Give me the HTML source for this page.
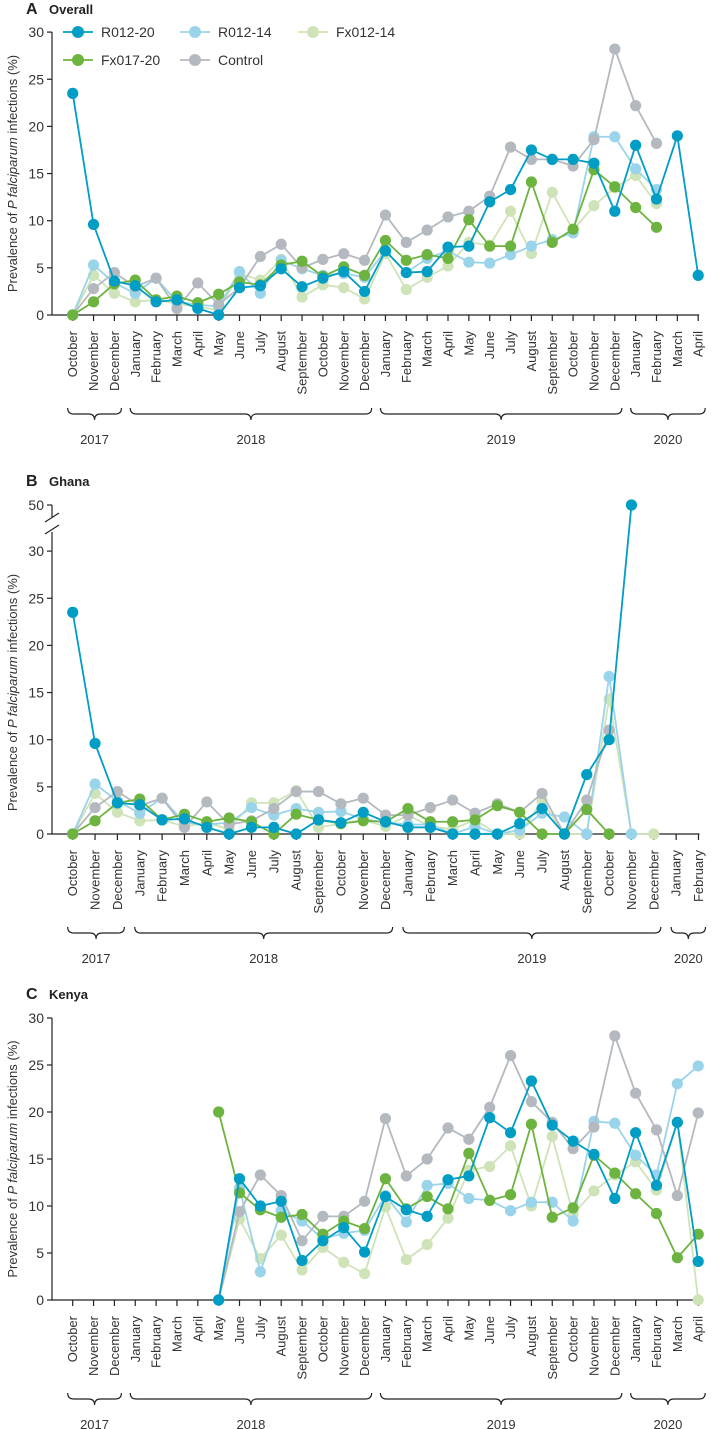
<!DOCTYPE html>
<html><head><meta charset="utf-8">
<style>
html,body{margin:0;padding:0;background:#fff;}
svg{display:block;font-family:"Liberation Sans",sans-serif;}
</style></head>
<body>
<svg id="chart" width="712" height="1429" viewBox="0 0 712 1429" xmlns="http://www.w3.org/2000/svg"></svg>
<script>
const monthsAC = ["October","November","December","January","February","March","April","May","June","July","August","September","October","November","December","January","February","March","April","May","June","July","August","September","October","November","December","January","February","March","April"];
const monthsB = ["October","November","December","January","February","March","April","May","June","July","August","September","October","November","December","January","February","March","April","May","June","July","August","September","October","November","December","January","February"];
const yearLabels = ["2017","2018","2019","2020"];
const seriesNames = ["Fx012-14","R012-14","Control","Fx017-20","R012-20"];
const yTicksAC = [0,5,10,15,20,25,30];

const A_R01220 = [23.5,9.6,3.6,3.1,1.4,1.6,0.7,0,2.9,3.1,4.9,3.0,3.9,4.6,2.5,6.8,4.5,4.6,7.2,7.3,12.0,13.3,17.5,16.5,16.5,16.1,11.0,18.0,12.3,19.0,4.2];
const A_R01214 = [0,5.3,3.4,2.3,3.9,1.4,1.1,0.9,4.6,2.3,5.8,4.9,4.2,4.4,4.0,6.8,4.5,6.0,6.8,5.6,5.5,6.4,7.3,8.0,8.7,18.9,18.9,15.5,13.3,null,null];
const A_Fx01214 = [0,4.2,2.3,1.4,1.6,1.2,0.9,0.5,4.4,3.7,5.9,1.9,3.2,2.9,1.7,6.5,2.7,4.0,5.2,7.7,7.4,11.0,6.5,13.0,9.0,11.6,13.5,14.8,11.8,null,null];
const A_Fx01720 = [0,1.4,3.3,3.7,1.6,2.0,1.3,2.2,3.5,3.2,5.3,5.7,4.1,5.1,4.2,7.9,5.8,6.4,6.0,10.1,7.3,7.3,14.1,7.7,9.1,15.4,13.6,11.4,9.3,null,null];
const A_Control = [0,2.8,4.5,3.0,3.9,0.7,3.4,1.1,2.9,6.2,7.5,5.0,5.9,6.5,5.8,10.6,7.7,9.0,10.4,11.0,12.6,17.8,16.5,16.5,15.8,18.6,28.2,22.2,18.2,null,null];

const B_R01220 = [23.5,9.6,3.3,3.1,1.5,1.6,0.7,0,0.7,0.7,0,1.5,1.2,2.3,1.3,0.7,0.7,0,0,0,1.1,2.7,0,6.3,10.0,50,null,null,null];
const B_R01214 = [0,5.3,3.5,2.2,3.8,1.2,1.0,1.2,2.8,2.0,2.7,2.3,2.4,1.6,1.2,1.0,1.0,0,0.8,0,0.4,2.2,1.8,0,16.7,0,null,null,null];
const B_Fx01214 = [0,4.3,2.3,1.4,1.5,0.8,1.2,0.5,3.3,3.3,4.6,0.7,1.1,1.5,0.8,2.0,0.8,0.5,1.5,0,0,3.5,0,0,14.3,0,0,null,null];
const B_Fx01720 = [0,1.4,3.3,3.7,1.5,2.1,1.3,1.7,1.3,0,2.1,1.5,1.1,1.4,1.3,2.7,1.3,1.3,1.5,3.0,2.3,0,0,2.6,0,null,null,null,null];
const B_Control = [0,2.8,4.5,3.0,3.8,0.7,3.4,1.0,1.4,2.7,4.5,4.5,3.2,3.8,2.0,2.0,2.8,3.6,2.2,3.2,2.3,4.3,0,3.6,11.0,null,null,null,null];

const C_R01220 = [null,null,null,null,null,null,null,0,12.9,10.0,10.5,4.2,6.3,7.7,5.1,11.0,9.6,8.9,12.8,13.2,19.4,17.8,23.3,18.6,16.9,15.5,10.8,17.8,12.2,18.9,4.1];
const C_R01214 = [null,null,null,null,null,null,null,0,11.9,3.0,9.5,8.4,6.5,7.1,7.4,11.1,8.3,12.2,12.4,10.8,10.6,9.5,10.4,10.4,8.4,19.0,18.8,15.4,13.3,23.0,24.9];
const C_Fx01214 = [null,null,null,null,null,null,null,0,8.6,4.4,6.9,3.2,5.6,4.0,2.8,9.9,4.3,5.9,8.7,13.8,14.2,16.4,10.0,17.4,9.1,11.6,13.3,14.7,11.7,18.9,0];
const C_Fx01720 = [null,null,null,null,null,null,null,20.0,11.4,9.6,8.8,9.1,7.0,8.4,7.6,12.9,9.7,11.0,9.7,15.6,10.6,11.2,18.7,8.8,9.8,15.4,13.5,11.3,9.2,4.5,7.0];
const C_Control = [null,null,null,null,null,null,null,0,9.4,13.3,11.1,6.3,8.9,8.9,10.5,19.3,13.2,15.0,18.3,17.1,20.5,26.0,21.1,18.9,16.1,18.4,28.1,22.0,18.1,11.1,19.9];

const colors = {"R012-20":"#009dc4","R012-14":"#9ad4ea","Fx012-14":"#cfe3b8","Fx017-20":"#6db33f","Control":"#b4b9c0"};
const NS = "http://www.w3.org/2000/svg";
const svg = document.getElementById("chart");
function mk(tag, attrs, parent){
  const e = document.createElementNS(NS, tag);
  for (const k in attrs) e.setAttribute(k, attrs[k]);
  (parent||svg).appendChild(e);
  return e;
}

function panel(cfg){
  const g = mk("g", {});
  
  
  const x = i => 72.7 + i*cfg.step;
  const y = cfg.y;
  const t1 = mk("text", {x:26, y:cfg.titleY, "font-size":16, "font-weight":"bold", fill:"#222"}, g);
  t1.textContent = cfg.letter;
  
  
  const t2 = mk("text", {x:49, y:cfg.titleY, "font-size":13, "font-weight":"bold", fill:"#222"}, g);
  t2.textContent = cfg.title;
  
  
  const cy = (cfg.y0 + cfg.yTop)/2;
  const yt = mk("text", {x:0, y:0, "font-size":13, fill:"#333", "text-anchor":"middle", transform:`translate(17,${cy}) rotate(-90)`}, g);
  yt.innerHTML = 'Prevalence of <tspan font-style="italic">P falciparum</tspan> infections (%)';
  
  
  const ya = mk("line", {x1:52, x2:52, y1:cfg.y0, y2:cfg.axisTop, stroke:"#222", "stroke-width":1.2}, g);
  
  
  cfg.ticks.forEach(v => {
    const yy = y(v);
    mk("line", {x1:47, x2:52, y1:yy, y2:yy, stroke:"#222", "stroke-width":1.2}, g);
    const tl = mk("text", {x:44, y:yy+5, "font-size":14, fill:"#333", "text-anchor":"end"}, g);
    tl.textContent = v;
    
    
  });
  if (cfg.breakTick !== undefined){
    const yy = y(cfg.breakTick);
    mk("line", {x1:52, x2:52, y1:yy, y2:yy+12, stroke:"#222", "stroke-width":1.2}, g);
    mk("line", {x1:47, x2:52, y1:yy, y2:yy, stroke:"#222", "stroke-width":1.2}, g);
    const tl = mk("text", {x:44, y:yy+5, "font-size":14, fill:"#333", "text-anchor":"end"}, g);
    tl.textContent = cfg.breakTick;
    
    
    const br = mk("path", {d:`M45 ${yy+17} L59 ${yy+8} M45 ${yy+29} L59 ${yy+20}`, stroke:"#222", "stroke-width":1.2, fill:"none"}, g);
    
    
  }
  const n = cfg.months.length;
  const xa = mk("line", {x1:52, x2:x(n-1)+1, y1:cfg.y0, y2:cfg.y0, stroke:"#222", "stroke-width":1.2}, g);
  
  
  cfg.months.forEach((m,i) => {
    mk("line", {x1:x(i), x2:x(i), y1:cfg.y0, y2:cfg.y0+6, stroke:"#222", "stroke-width":1.2}, g);
    const tl = mk("text", {x:0, y:0, "font-size":13, fill:"#333", "text-anchor":"end", transform:`translate(${x(i)+4.5},${cfg.y0+16}) rotate(-90)`}, g);
    tl.textContent = m;
    
    
  });
  cfg.years.forEach((r, k) => {
    const x1 = x(r[0]) - 5, x2 = x(r[1]) + 7, mid = (x1+x2)/2, b = cfg.y0 + 93;
    const p = mk("path", {d:`M${x1} ${b} q0 6 6 6 L${mid-6} ${b+6} q6 0 6 6 q0 -6 6 -6 L${x2-6} ${b+6} q6 0 6 -6`, stroke:"#222", "stroke-width":1.2, fill:"none"}, g);
    
    
    const yl = mk("text", {x:mid, y:cfg.y0+129, "font-size":13, fill:"#333", "text-anchor":"middle"}, g);
    yl.textContent = yearLabels[k];
    
    
  });
  cfg.series.forEach((vals, s) => {
    const name = seriesNames[s];
    const col = colors[name];
    const sg = mk("g", {}, g);
    
    
    let seg = [];
    const flush = () => {
      if (seg.length > 1) {
        const pl = mk("polyline", {points: seg.join(" "), fill:"none", stroke:col, "stroke-width":1.8}, sg);
        
        
      }
      seg = [];
    };
    vals.forEach((v,i) => { if (v === null) flush(); else seg.push(x(i)+","+y(v)); });
    flush();
    vals.forEach((v,i) => {
      if (v === null) return;
      const c = mk("circle", {cx:x(i), cy:y(v), r:5.6, fill:col}, sg);
      
      
    });
  });
}

panel({name:"panel-a-overall", letter:"A", title:"Overall", titleY:14, step:20.85, months:monthsAC,
  y0:315, yTop:32, axisTop:32, ticks:yTicksAC, y:v => 315 - v*9.43,
  years:[[0,2],[3,14],[15,26],[27,30]],
  series:[A_Fx01214, A_R01214, A_Control, A_Fx01720, A_R01220]});
panel({name:"panel-b-ghana", letter:"B", title:"Ghana", titleY:486, step:22.35, months:monthsB,
  y0:834, yTop:551, axisTop:532, ticks:yTicksAC, breakTick:50,
  y:v => v <= 30 ? 834 - v*9.43 : 551 - (v-30)*2.3,
  years:[[0,2],[3,14],[15,26],[27,28]],
  series:[B_Fx01214, B_R01214, B_Control, B_Fx01720, B_R01220]});
panel({name:"panel-c-kenya", letter:"C", title:"Kenya", titleY:999, step:20.85, months:monthsAC,
  y0:1300, yTop:1018, axisTop:1018, ticks:yTicksAC, y:v => 1300 - v*9.4,
  years:[[0,2],[3,14],[15,26],[27,30]],
  series:[C_Fx01214, C_R01214, C_Control, C_Fx01720, C_R01220]});

const legendItems = [["R012-20",73,32],["R012-14",190,32],["Fx012-14",308,32],["Fx017-20",73,60],["Control",190,60]];
const lg = mk("g", {});


legendItems.forEach(([name,lx,ly]) => {
  const e = mk("g", {}, lg);
  
  
  mk("line", {x1:lx-10, x2:lx+20, y1:ly, y2:ly, stroke:colors[name], "stroke-width":1.8}, e);
  mk("circle", {cx:lx+5, cy:ly, r:6, fill:colors[name]}, e);
  const t = mk("text", {x:lx+28, y:ly+5, "font-size":14, fill:"#333"}, e);
  t.textContent = name;
});
</script>
</body></html>
